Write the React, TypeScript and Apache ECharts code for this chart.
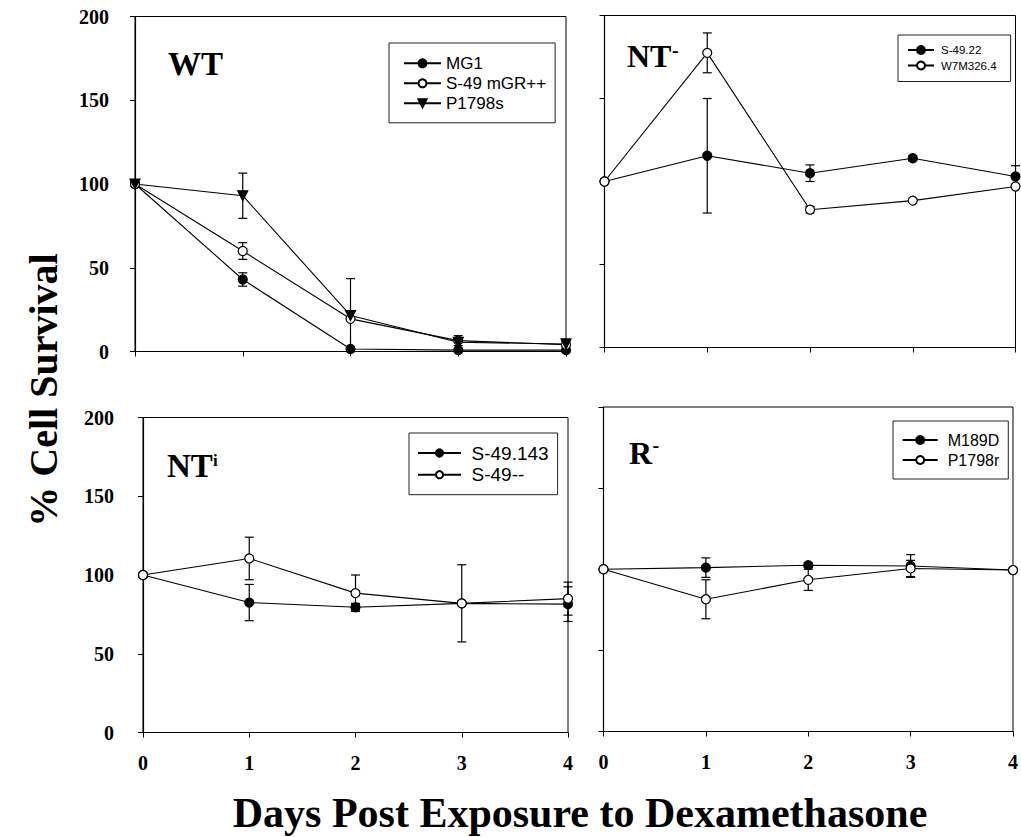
import React, { useEffect, useRef } from "react";
import * as echarts from "echarts";

// ---- data ----
const days = [0, 1, 2, 3, 4];
const yTicks = [0, 50, 100, 150, 200];

// WT panel
const mg1 = [100, 43, 1.5, 0.8, 0.8];
const mg1Err = [0, 4, 0, 0, 0];
const s49mGR = [100, 60, 19.5, 6.5, 4];
const s49mGRErr = [0, 5, 0, 3, 0];
const p1798s = [100, 93, 21.5, 5.5, 4.5];
const p1798sErr = [0, 13.5, 22, 0, 1.5];

// NT- panel
const s4922 = [100, 115.5, 105, 114, 103];
const s4922Err = [0, 34.5, 5, 1.5, 6.5];
const w7m3264 = [100, 177.5, 83, 88.5, 97];
const w7m3264Err = [0, 12, 2, 0, 0];

// NTi panel
const s49143 = [100, 82.5, 79.5, 82, 81.5];
const s49143Err = [0, 11.5, 2.5, 0, 11];
const s49mm = [100, 110.5, 88.5, 82, 85];
const s49mmErr = [0, 13.5, 11.5, 24.5, 10.5];

// R- panel
const m189d = [100, 101, 102.5, 102, 99.5];
const m189dErr = [0, 6, 1.5, 7, 0];
const p1798r = [100, 81.5, 93.5, 100.5, 99.5];
const p1798rErr = [0, 12, 6.5, 5, 0];

const SERIF = "'Liberation Serif', 'Times New Roman', serif";
const SANS = "'Liberation Sans', Arial, sans-serif";

type SeriesDef = {
  name: string;
  values: number[];
  errs: number[];
  kind: "filled" | "open" | "tri";
};

const panels: {
  grid: { left: number; top: number; width: number; height: number };
  showX: boolean;
  showY: boolean;
  yMargin: number;
  series: SeriesDef[];
}[] = [
  {
    grid: { left: 135, top: 16.5, width: 431, height: 335 },
    showX: false,
    showY: true,
    yMargin: 26,
    series: [
      { name: "MG1", values: mg1, errs: mg1Err, kind: "filled" },
      { name: "S-49 mGR++", values: s49mGR, errs: s49mGRErr, kind: "open" },
      { name: "P1798s", values: p1798s, errs: p1798sErr, kind: "tri" },
    ],
  },
  {
    grid: { left: 604.5, top: 15.5, width: 411, height: 332 },
    showX: false,
    showY: false,
    yMargin: 10,
    series: [
      { name: "S-49.22", values: s4922, errs: s4922Err, kind: "filled" },
      { name: "W7M326.4", values: w7m3264, errs: w7m3264Err, kind: "open" },
    ],
  },
  {
    grid: { left: 143, top: 417.5, width: 425, height: 315 },
    showX: true,
    showY: true,
    yMargin: 29,
    series: [
      { name: "S-49.143", values: s49143, errs: s49143Err, kind: "filled" },
      { name: "S-49--", values: s49mm, errs: s49mmErr, kind: "open" },
    ],
  },
  {
    grid: { left: 603.5, top: 407, width: 413.5, height: 324.5 },
    showX: true,
    showY: false,
    yMargin: 10,
    series: [
      { name: "M189D", values: m189d, errs: m189dErr, kind: "filled" },
      { name: "P1798r", values: p1798r, errs: p1798rErr, kind: "open" },
    ],
  },
];

function errRender(params: any, api: any) {
  const x = api.value(0);
  const lo = api.value(1);
  const hi = api.value(2);
  const p1 = api.coord([x, lo]);
  const p2 = api.coord([x, hi]);
  const w = 4.5;
  const st = { stroke: "#000", lineWidth: 1.2 };
  return {
    type: "group",
    children: [
      { type: "line", shape: { x1: p1[0], y1: p1[1], x2: p2[0], y2: p2[1] }, style: st },
      { type: "line", shape: { x1: p1[0] - w, y1: p1[1], x2: p1[0] + w, y2: p1[1] }, style: st },
      { type: "line", shape: { x1: p2[0] - w, y1: p2[1], x2: p2[0] + w, y2: p2[1] }, style: st },
    ],
  };
}

function buildOption() {
  const grids: any[] = [];
  const xAxes: any[] = [];
  const yAxes: any[] = [];
  const series: any[] = [];

  panels.forEach((p, i) => {
    grids.push({
      ...p.grid,
      show: true,
      borderColor: "#000",
      borderWidth: 1,
      backgroundColor: "transparent",
    });
    xAxes.push({
      type: "value",
      gridIndex: i,
      min: 0,
      max: 4,
      interval: 1,
      axisLine: { show: true, lineStyle: { color: "#000", width: 1.2 } },
      axisTick: { show: true, inside: false, length: 5, lineStyle: { color: "#000" } },
      splitLine: { show: false },
      axisLabel: {
        show: p.showX,
        margin: 20,
        color: "#000",
        fontSize: 20,
        fontWeight: "bold",
        fontFamily: SERIF,
        formatter: (v: number) => String(v),
      },
    });
    yAxes.push({
      type: "value",
      gridIndex: i,
      min: 0,
      max: 200,
      interval: 50,
      axisLine: { show: true, lineStyle: { color: "#000", width: 1.2 } },
      axisTick: { show: true, inside: false, length: 5, lineStyle: { color: "#000" } },
      splitLine: { show: false },
      axisLabel: {
        show: p.showY,
        margin: p.yMargin,
        color: "#000",
        fontSize: 20,
        fontWeight: "bold",
        fontFamily: SERIF,
        customValues: yTicks,
      },
    });

    p.series.forEach((s) => {
      const isOpen = s.kind === "open";
      series.push({
        type: "line",
        name: s.name,
        xAxisIndex: i,
        yAxisIndex: i,
        data: days.map((d, k) => [d, s.values[k]]),
        symbol: s.kind === "tri" ? "triangle" : "circle",
        symbolRotate: s.kind === "tri" ? 180 : 0,
        symbolSize: s.kind === "tri" ? 10 : 9,
        showSymbol: true,
        lineStyle: { color: "#000", width: 1.1 },
        itemStyle: {
          color: isOpen ? "#fff" : "#000",
          borderColor: "#000",
          borderWidth: 1.2,
        },
        z: 3,
        clip: false,
      });
      const errData = days
        .map((d, k) => [d, Math.max(0, s.values[k] - s.errs[k]), s.values[k] + s.errs[k], s.errs[k]])
        .filter((r) => r[3] > 0)
        .map((r) => [r[0], r[1], r[2]]);
      series.push({
        type: "custom",
        name: s.name + " err",
        xAxisIndex: i,
        yAxisIndex: i,
        data: errData,
        encode: { x: 0, y: [1, 2] },
        renderItem: errRender,
        z: 2,
        clip: false,
      });
    });
  });

  const legendBase = {
    orient: "vertical",
    borderColor: "#222",
    borderWidth: 1,
    borderRadius: 0,
    backgroundColor: "#fff",
    selectedMode: false,
    itemHeight: 10,
  };

  const legends = [
    {
      ...legendBase,
      data: ["MG1", "S-49 mGR++", "P1798s"],
      left: 389,
      top: 43,
      padding: [11.8, 9, 11, 14],
      itemWidth: 37,
      itemGap: 3,
      textStyle: { fontSize: 17, fontFamily: SANS, color: "#000" },
    },
    {
      ...legendBase,
      data: ["S-49.22", "W7M326.4"],
      left: 898,
      top: 35,
      padding: [9, 14, 10, 9],
      itemWidth: 26,
      itemGap: 3.5,
      itemHeight: 10,
      textStyle: { fontSize: 11.5, fontFamily: SANS, color: "#000", padding: [0, 0, 0, 2] },
    },
    {
      ...legendBase,
      data: ["S-49.143", "S-49--"],
      left: 409,
      top: 433,
      padding: [10.5, 9, 10.5, 8],
      itemWidth: 43,
      itemGap: 2.7,
      itemHeight: 9,
      textStyle: { fontSize: 19, fontFamily: SANS, color: "#000", padding: [0, 0, 0, 5.5] },
    },
    {
      ...legendBase,
      data: ["M189D", "P1798r"],
      left: 893,
      top: 421,
      padding: [11, 9, 11, 8.7],
      itemWidth: 35,
      itemGap: 4,
      itemHeight: 10,
      textStyle: { fontSize: 16, fontFamily: SANS, color: "#000", padding: [0, 0, 0, 5] },
    },
  ];

  const titleText = (text: string, x: number, y: number, size: number) => ({
    type: "text",
    x,
    y,
    style: {
      text,
      fill: "#000",
      font: `bold ${size}px ${SERIF}`,
      align: "left",
      verticalAlign: "middle",
    },
  });

  const graphic = [
    titleText("WT", 168, 63.5, 33),
    titleText("NT", 627, 55.5, 32),
    titleText("-", 672, 50, 20),
    titleText("NT", 167, 466, 33),
    titleText("i", 213, 460, 17),
    titleText("R", 629, 452.5, 32),
    titleText("-", 652.5, 445, 20),
    {
      type: "text",
      x: 43,
      y: 390,
      rotation: Math.PI / 2,
      style: {
        text: "% Cell Survival",
        fill: "#000",
        font: `bold 40px ${SERIF}`,
        align: "center",
        verticalAlign: "middle",
      },
    },
    {
      type: "text",
      x: 580,
      y: 813,
      style: {
        text: "Days Post Exposure to Dexamethasone",
        fill: "#000",
        font: `bold 42px ${SERIF}`,
        align: "center",
        verticalAlign: "middle",
      },
    },
  ];

  return {
    animation: false,
    backgroundColor: "#fff",
    grid: grids,
    xAxis: xAxes,
    yAxis: yAxes,
    legend: legends,
    series,
    graphic,
  };
}

export default function App() {
  const ref = useRef<HTMLDivElement>(null);
  useEffect(() => {
    if (!ref.current) return;
    const chart = echarts.init(ref.current, undefined, { renderer: "svg" });
    chart.setOption(buildOption() as any);
    return () => chart.dispose();
  }, []);
  return (
    <div
      ref={ref}
      style={{ position: "fixed", left: 0, top: 0, width: 1021, height: 837, background: "#fff" }}
    />
  );
}
